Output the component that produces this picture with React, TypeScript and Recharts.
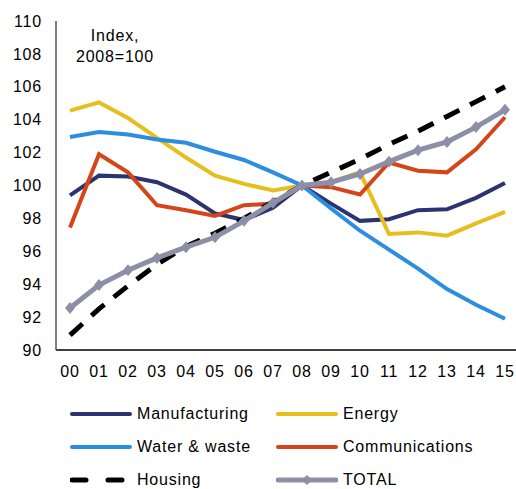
import React from 'react';
import { LineChart, Line, XAxis, YAxis } from 'recharts';

// years 2000-2015, index 2008=100
const years = ['00', '01', '02', '03', '04', '05', '06', '07', '08', '09', '10', '11', '12', '13', '14', '15'];
const manufacturing = [99.4, 100.6, 100.55, 100.2, 99.45, 98.3, 97.9, 98.65, 100.0, 98.9, 97.85, 97.95, 98.5, 98.55, 99.25, 100.15];
const energy = [104.55, 105.05, 104.1, 102.9, 101.7, 100.6, 100.1, 99.7, 100.0, 100.2, 100.8, 97.05, 97.15, 96.95, 97.7, 98.4];
const water = [102.95, 103.25, 103.1, 102.8, 102.6, 102.05, 101.55, 100.8, 100.0, 98.6, 97.25, 96.1, 94.95, 93.7, 92.75, 91.9];
const communications = [97.45, 101.9, 100.8, 98.8, 98.5, 98.15, 98.8, 98.9, 100.0, 99.9, 99.45, 101.4, 100.9, 100.8, 102.2, 104.15];
const housing = [90.9, 92.5, 93.9, 95.2, 96.3, 97.1, 98.0, 99.0, 100.0, 100.8, 101.6, 102.5, 103.3, 104.2, 105.1, 106.0];
const total = [92.55, 93.95, 94.85, 95.6, 96.25, 96.85, 97.85, 98.95, 100.0, 100.2, 100.7, 101.45, 102.15, 102.65, 103.55, 104.6];
const yTicks = [90, 92, 94, 96, 98, 100, 102, 104, 106, 108, 110];

const data = years.map((y, i) => ({
  year: y,
  manufacturing: manufacturing[i],
  energy: energy[i],
  water: water[i],
  communications: communications[i],
  housing: housing[i],
  total: total[i],
}));

const FONT = '"Liberation Sans", Arial, sans-serif';
const tickStyle = { fontFamily: FONT, fontSize: 16, fill: '#000', letterSpacing: 0.8 };

const Diamond = (props: any) => {
  const { cx, cy, index } = props;
  if (cx == null || cy == null) return null;
  return <path key={index} d={`M${cx},${cy - 6}L${cx + 5},${cy}L${cx},${cy + 6}L${cx - 5},${cy}Z`} fill="#8c8fa6" />;
};

const legendItems = [
  { name: 'Manufacturing', color: '#2b3370', kind: 'solid' },
  { name: 'Energy', color: '#e6bf1e', kind: 'solid' },
  { name: 'Water & waste', color: '#2b8ee0', kind: 'solid' },
  { name: 'Communications', color: '#d4461a', kind: 'solid' },
  { name: 'Housing', color: '#000', kind: 'dash' },
  { name: 'TOTAL', color: '#8c8fa6', kind: 'diamond' },
];

const LegendMark = ({ color, kind }: { color: string; kind: string }) => (
  <svg width={62} height={10} style={{ display: 'block' }}>
    {kind === 'dash' ? (
      <line x1={2} y1={5} x2={60} y2={5} stroke={color} strokeWidth={5} strokeLinecap="round" strokeDasharray="14 22" />
    ) : (
      <line x1={2} y1={5} x2={60} y2={5} stroke={color} strokeWidth={kind === 'diamond' ? 5 : 4} strokeLinecap="round" />
    )}
    {kind === 'diamond' && <path d="M31,0L36,5L31,10L26,5Z" fill={color} />}
  </svg>
);

export default function App() {
  return (
    <div style={{ position: 'absolute', left: 0, top: 0, width: 516, height: 489, background: '#fff', overflow: 'hidden' }}>
      <LineChart width={516} height={391} data={data} margin={{ top: 21, right: 0, bottom: 0, left: 0 }}>
        <XAxis
          dataKey="year"
          padding={{ left: 14, right: 11 }}
          tickLine={false}
          tickSize={14}
          tickMargin={2}
          height={41}
          stroke="#000"
          strokeWidth={1.5}
          tick={tickStyle}
          interval={0}
        />
        <YAxis
          domain={[90, 110]}
          ticks={yTicks}
          width={56}
          tickLine={false}
          tickSize={12}
          tickMargin={2}
          stroke="#555"
          strokeWidth={1.5}
          tick={tickStyle}
          interval={0}
        />
        <Line dataKey="manufacturing" stroke="#2b3370" strokeWidth={4} dot={false} isAnimationActive={false} />
        <Line dataKey="energy" stroke="#e6bf1e" strokeWidth={4} dot={false} isAnimationActive={false} />
        <Line dataKey="water" stroke="#2b8ee0" strokeWidth={4} dot={false} isAnimationActive={false} />
        <Line dataKey="communications" stroke="#d4461a" strokeWidth={4} dot={false} isAnimationActive={false} />
        <Line dataKey="housing" stroke="#000" strokeWidth={5} strokeDasharray="17 12" dot={false} isAnimationActive={false} />
        <Line dataKey="total" stroke="#8c8fa6" strokeWidth={5} dot={<Diamond />} isAnimationActive={false} />
      </LineChart>
      <div
        style={{
          position: 'absolute',
          left: 64,
          top: 25,
          width: 102,
          textAlign: 'center',
          fontFamily: FONT,
          fontSize: 16,
          letterSpacing: 0.8,
          lineHeight: '21px',
          color: '#000',
        }}
      >
        Index,
        <br />
        2008=100
      </div>
      <div style={{ position: 'absolute', left: 70, top: 397, width: 440, fontFamily: FONT, fontSize: 16, letterSpacing: 0.8, lineHeight: '17px' }}>
        {[0, 2, 4].map((r) => (
          <div key={r} style={{ display: 'flex', height: 33, alignItems: 'center' }}>
            {[legendItems[r], legendItems[r + 1]].map((it) => (
              <div key={it.name} style={{ display: 'flex', alignItems: 'center', width: 206 }}>
                <LegendMark color={it.color} kind={it.kind} />
                <span style={{ marginLeft: 5 }}>{it.name}</span>
              </div>
            ))}
          </div>
        ))}
      </div>
    </div>
  );
}
